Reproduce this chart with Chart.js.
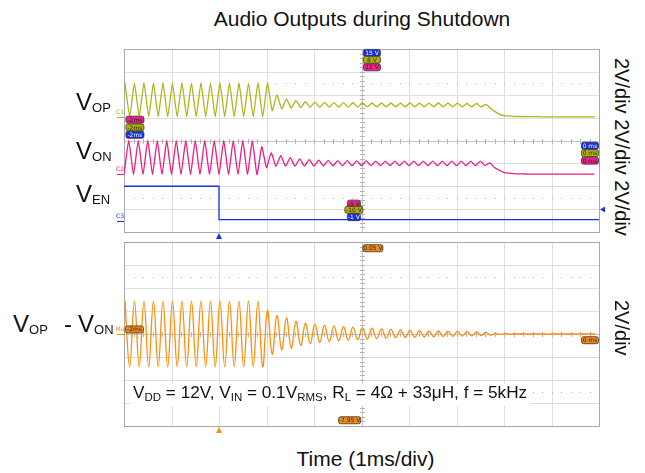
<!DOCTYPE html>
<html>
<head>
<meta charset="utf-8">
<script src="https://cdn.jsdelivr.net/npm/chart.js@4/dist/chart.umd.min.js"></script>
<style>
  body { margin: 0; background: #fff; width: 645px; height: 473px; position: relative; overflow: hidden;
         font-family: "Liberation Sans", Arial, sans-serif; color: #111; }
  canvas { position: absolute; }
  .t { position: absolute; white-space: nowrap; line-height: 1; }
  .t sub { vertical-align: baseline; position: relative; }
  .v { font-size: 24px; }
  .v sub { font-size: 13px; top: 2px; }
  .note { font-size: 17.2px; background: #fff; padding: 0 3px 5px 2px; }
  .note sub { font-size: 11.5px; top: 3px; }
  .vert { writing-mode: vertical-rl; font-size: 20px; }
</style>
</head>
<body>
<canvas id="top-chart" width="510" height="196" style="left:100px;top:45px"></canvas>
<canvas id="diff-chart" width="510" height="197" style="left:100px;top:237px"></canvas>

<div class="t" style="left:0;width:724px;text-align:center;top:8px;font-size:21px">Audio Outputs during Shutdown</div>
<div class="t" style="left:0;width:731px;text-align:center;top:448px;font-size:21px">Time (1ms/div)</div>

<div class="t v" style="left:76px;top:90px">V<sub>OP</sub></div>
<div class="t v" style="left:76px;top:139px">V<sub>ON</sub></div>
<div class="t v" style="left:76px;top:182px">V<sub>EN</sub></div>
<div class="t v" style="left:13px;top:312px">V<sub>OP</sub></div>
<div class="t v" style="left:64px;top:312px">-</div>
<div class="t v" style="left:78px;top:312px">V<sub>ON</sub></div>

<div class="t note" style="left:131px;top:384px">V<sub>DD</sub> = 12V, V<sub>IN</sub> = 0.1V<sub>RMS</sub>, R<sub>L</sub> = 4Ω + 33μH, f = 5kHz</div>

<div class="t vert" style="left:612px;top:58px">2V/div 2V/div 2V/div</div>
<div class="t vert" style="left:612px;top:300px">2V/div</div>

<script>
// time axis: 0..10 ms (1 ms/div), one sample per half cycle of the 5 kHz tone
const CYCLE_MS = 0.2;
const c1Phase = 0.02;   // first V_OP peak
const c2Phase = 0.0;    // first V_ON trough
const mPhase  = 0.02;   // first differential peak

// values in divisions (2 V/div), one per cycle
const c1High = [2.52, 2.5, 2.52, 2.51, 2.52, 2.5, 2.52, 2.51, 2.52, 2.5, 2.52, 2.51, 2.52, 2.5, 2.52, 2.5,
  2.0, 1.82, 1.74, 1.7, 1.68, 1.67, 1.66, 1.66, 1.65, 1.65, 1.64, 1.64, 1.64, 1.63, 1.64, 1.63, 1.63, 1.64, 1.63, 1.63, 1.62, 1.62,
  1.58, 1.25, 1.08, 1.05, 1.04, 1.04, 1.03, 1.03, 1.03, 1.03, 1.03, 1.03];
const c1Low = [1.04, 1.04, 1.04, 1.04, 1.04, 1.04, 1.04, 1.04, 1.04, 1.04, 1.04, 1.04, 1.04, 1.04, 1.04,
  1.3, 1.38, 1.42, 1.44, 1.45, 1.45, 1.46, 1.46, 1.46, 1.46, 1.47, 1.47, 1.47, 1.47, 1.47, 1.47, 1.47, 1.47, 1.47, 1.47, 1.47, 1.47, 1.47,
  1.4, 1.13, 1.07, 1.05, 1.04, 1.04, 1.03, 1.03, 1.03, 1.03, 1.03, 1.03];

const c2Low = [-1.49, -1.49, -1.49, -1.49, -1.49, -1.49, -1.49, -1.49, -1.49, -1.49, -1.49, -1.49, -1.49, -1.49, -1.49,
  -1.19, -1.13, -1.12, -1.12, -1.11, -1.11, -1.11, -1.11, -1.1, -1.1, -1.1, -1.1, -1.1, -1.1, -1.1, -1.1, -1.1, -1.1, -1.1, -1.1, -1.1, -1.1, -1.1,
  -1.1, -1.18, -1.4, -1.45, -1.46, -1.47, -1.47, -1.47, -1.47, -1.47, -1.47, -1.47];
const c2High = [0.0, -0.01, 0.0, -0.01, 0.0, -0.01, 0.0, -0.01, 0.0, -0.01, 0.0, -0.01, 0.0, -0.01,
  -0.27, -0.53, -0.66, -0.75, -0.8, -0.84, -0.86, -0.87, -0.88, -0.88, -0.89, -0.89, -0.9, -0.9, -0.9, -0.9, -0.9, -0.9, -0.9, -0.9, -0.9, -0.9, -0.9, -0.9,
  -0.98, -1.3, -1.43, -1.46, -1.47, -1.47, -1.47, -1.47, -1.47, -1.47, -1.47, -1.47];

const enTime  = [0, 2.0, 2.0, 10];
const enLevel = [-2.0, -2.0, -3.46, -3.46];

const mHigh = [1.43, 1.43, 1.43, 1.43, 1.43, 1.43, 1.43, 1.43, 1.43, 1.43, 1.43, 1.43, 1.43, 1.43, 1.43,
  1.03, 0.8, 0.7, 0.55, 0.47, 0.43, 0.38, 0.35, 0.32, 0.3, 0.28, 0.25, 0.22, 0.2, 0.18, 0.16, 0.15, 0.14, 0.13, 0.12, 0.11, 0.1, 0.09, 0.07, 0.03,
  0.02, 0.01, 0.02, 0.01, 0.01, 0.02, 0.01, 0.01, 0.02, 0.01];
const mLow = [-1.43, -1.43, -1.43, -1.43, -1.43, -1.43, -1.43, -1.43, -1.43, -1.43, -1.43, -1.43, -1.43, -1.43, -1.43,
  -0.88, -0.7, -0.62, -0.5, -0.42, -0.37, -0.33, -0.3, -0.27, -0.25, -0.22, -0.2, -0.18, -0.16, -0.15, -0.14, -0.13, -0.12, -0.11, -0.1, -0.09, -0.08, -0.07, -0.05, -0.02,
  -0.01, 0, -0.01, 0, -0.01, 0, 0, -0.01, 0, 0];

const COL = { c1: '#b2b21a', c2: '#ec1c83', c3: '#1733e8', m: '#ff8c0a' };

function zigzag(t0, first, second) {
  const pts = [];
  for (let k = 0; k < first.length; k++) {
    pts.push({ x: t0 + k * CYCLE_MS, y: first[k] });
    pts.push({ x: t0 + k * CYCLE_MS + CYCLE_MS / 2, y: second[k] });
  }
  return pts;
}

// ------------------------------------------------------
// scope graticule + readout boxes
// ------------------------------------------------------
const scopePlugin = {
  id: 'scope',
  beforeDatasetsDraw(chart) {
    const { ctx, chartArea: a, scales: { x, y } } = chart;
    const line = (x1, y1, x2, y2, col) => {
      ctx.strokeStyle = col;
      ctx.beginPath(); ctx.moveTo(x1, y1); ctx.lineTo(x2, y2); ctx.stroke();
    };
    ctx.save();
    ctx.lineWidth = 1;
    for (let v = 1; v < 10; v++) {
      const px = Math.round(x.getPixelForValue(v)) + 0.5;
      line(px, a.top, px, a.bottom, v === 5 ? '#c4c4c4' : '#dedede');
    }
    for (let v = -3; v <= 3; v++) {
      const py = Math.round(y.getPixelForValue(v)) + 0.5;
      line(a.left, py, a.right, py, v === 0 ? '#c4c4c4' : '#dedede');
    }
    ctx.fillStyle = '#b5b5b5';
    [2.5, -2.5].forEach(v => {
      const py = Math.round(y.getPixelForValue(v));
      for (let i = 1; i < 50; i++) ctx.fillRect(Math.round(x.getPixelForValue(i * 0.2)), py, 1, 1);
    });
    const cy = Math.round(y.getPixelForValue(0));
    for (let i = 1; i < 50; i++) ctx.fillRect(Math.round(x.getPixelForValue(i * 0.2)), cy - 2, 1, 5);
    const cx = Math.round(x.getPixelForValue(5));
    for (let i = 1; i < 40; i++) ctx.fillRect(cx - 2, Math.round(y.getPixelForValue(-4 + i * 0.2)), 5, 1);
    ctx.strokeStyle = '#a8a8a8';
    ctx.strokeRect(Math.round(a.left) + 0.5, Math.round(a.top) + 0.5, Math.round(a.width), Math.round(a.height));
    ctx.restore();
  },
  afterDraw(chart, args, opts) {
    const { ctx, chartArea: a, scales: { x, y } } = chart;
    ctx.save();
    ctx.font = '6px "DejaVu Sans"';
    ctx.textAlign = 'center';
    ctx.textBaseline = 'middle';
    (opts.markers || []).forEach(m => {
      const px = x.getPixelForValue(m.x), py = y.getPixelForValue(m.y);
      ctx.beginPath();
      ctx.roundRect(px - m.w / 2, py - 3.5, m.w, 7, 2);
      ctx.fillStyle = m.fill; ctx.fill();
      ctx.lineWidth = 0.8; ctx.strokeStyle = '#333'; ctx.stroke();
      ctx.fillStyle = m.ink;
      ctx.fillText(m.text, px, py + 0.5);
    });
    (opts.tags || []).forEach(t => {
      const py = Math.round(y.getPixelForValue(t.y)) + 0.5;
      ctx.strokeStyle = t.color; ctx.lineWidth = 1;
      ctx.beginPath(); ctx.moveTo(a.left - 7, py); ctx.lineTo(a.left, py); ctx.stroke();
      ctx.fillStyle = t.color;
      ctx.fillText(t.text, a.left - 4, py - 5);
    });
    (opts.arrows || []).forEach(r => {
      ctx.fillStyle = r.color;
      ctx.beginPath();
      if (r.kind === 'up') {
        const px = x.getPixelForValue(r.x);
        ctx.moveTo(px, a.bottom + 1); ctx.lineTo(px - 3, a.bottom + 7); ctx.lineTo(px + 3, a.bottom + 7);
      } else {
        const py = y.getPixelForValue(r.y);
        ctx.moveTo(a.right + 1, py); ctx.lineTo(a.right + 6, py - 3); ctx.lineTo(a.right + 6, py + 3);
      }
      ctx.fill();
    });
    ctx.restore();
  }
};

const scaleOpts = {
  x: { type: 'linear', min: 0, max: 10, display: false },
  y: { type: 'linear', min: -4, max: 4, display: false },
};

function trace(data, color, tension) {
  return { data, borderColor: color, borderWidth: 1.3, pointRadius: 0, tension, fill: false };
}

new Chart(document.getElementById('top-chart'), {
  type: 'line',
  data: {
    datasets: [
      trace(zigzag(c1Phase, c1High, c1Low), COL.c1, 0.15),
      trace(zigzag(c2Phase, c2Low, c2High), COL.c2, 0.15),
      trace(enTime.map((t, i) => ({ x: t, y: enLevel[i] })), COL.c3, 0),
    ],
  },
  options: {
    responsive: false,
    animation: false,
    layout: { padding: { left: 24, right: 11, top: 4, bottom: 9 } },
    scales: scaleOpts,
    plugins: {
      legend: { display: false },
      tooltip: { enabled: false },
      scope: {
        markers: [
          { x: 5.22, y: 3.83, w: 17, text: '15 V', fill: '#1530e0', ink: '#fff' },
          { x: 5.22, y: 3.53, w: 17, text: '8 V', fill: '#b0b000', ink: '#222' },
          { x: 5.22, y: 3.2, w: 17, text: '11 V', fill: '#ee2288', ink: '#222' },
          { x: 0.23, y: 0.91, w: 18, text: '-2ms', fill: '#ee2288', ink: '#222' },
          { x: 0.23, y: 0.57, w: 18, text: '-2ms', fill: '#b0b000', ink: '#222' },
          { x: 0.23, y: 0.25, w: 18, text: '-2ms', fill: '#1530e0', ink: '#fff' },
          { x: 9.81, y: -0.23, w: 17, text: '0 ms', fill: '#1530e0', ink: '#fff' },
          { x: 9.81, y: -0.55, w: 17, text: '0 ms', fill: '#b0b000', ink: '#222' },
          { x: 9.81, y: -0.88, w: 17, text: '0 ms', fill: '#ee2288', ink: '#222' },
          { x: 4.84, y: -2.76, w: 13, text: '-5 V', fill: '#ee2288', ink: '#222' },
          { x: 4.84, y: -3.03, w: 18, text: '-10 V', fill: '#b0b000', ink: '#222' },
          { x: 4.84, y: -3.35, w: 13, text: '-1 V', fill: '#1530e0', ink: '#fff' },
        ],
        tags: [
          { y: 1.04, text: 'C1', color: COL.c1 },
          { y: -1.45, text: 'C2', color: COL.c2 },
          { y: -3.5, text: 'C3', color: COL.c3 },
        ],
        arrows: [
          { kind: 'up', x: 2.0, color: COL.c3 },
          { kind: 'left', y: -3.02, color: COL.c3 },
        ],
      },
    },
  },
  plugins: [scopePlugin],
});

new Chart(document.getElementById('diff-chart'), {
  type: 'line',
  data: {
    datasets: [trace(zigzag(mPhase, mHigh, mLow), COL.m, 0.4)],
  },
  options: {
    responsive: false,
    animation: false,
    layout: { padding: { left: 24, right: 11, top: 5, bottom: 8 } },
    scales: scaleOpts,
    plugins: {
      legend: { display: false },
      tooltip: { enabled: false },
      scope: {
        markers: [
          { x: 5.24, y: 3.73, w: 20, text: '0.05 V', fill: '#f08c1a', ink: '#222' },
          { x: 0.22, y: 0.2, w: 18, text: '-2ms', fill: '#f08c1a', ink: '#222' },
          { x: 9.81, y: -0.27, w: 17, text: '0 ms', fill: '#f08c1a', ink: '#222' },
          { x: 4.75, y: -3.75, w: 22, text: '-7.95 V', fill: '#f08c1a', ink: '#222' },
        ],
        tags: [{ y: 0, text: 'Ma', color: COL.m }],
        arrows: [{ kind: 'up', x: 2.0, color: COL.m }],
      },
    },
  },
  plugins: [scopePlugin],
});
</script>
</body>
</html>
